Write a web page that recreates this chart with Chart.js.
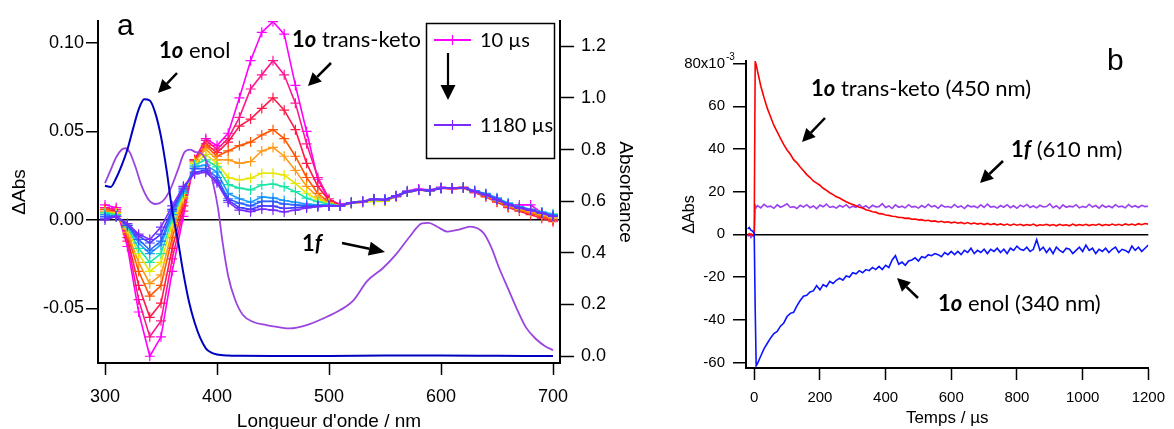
<!DOCTYPE html>
<html>
<head>
<meta charset="utf-8">
<script src="https://cdn.jsdelivr.net/npm/chart.js@4.4.1/dist/chart.umd.min.js"></script>
<style>
  html, body { margin: 0; padding: 0; background: #fff; }
  #wrap { position: relative; width: 1174px; height: 429px; overflow: hidden; }
  #chartA { position: absolute; left: 0; top: 0; }
  #chartB { position: absolute; left: 650px; top: 0; }
</style>
</head>
<body>
<div id="wrap">
  <canvas id="chartA" width="650" height="429"></canvas>
  <canvas id="chartB" width="524" height="429"></canvas>
</div>
<script>
// ---------- Panel a : transient spectra (left axis, ΔAbs) ----------
const wavelengths = [300, 310, 320, 330, 340, 350, 360, 370, 380, 390,
                     400, 410, 420, 430, 440, 450, 460, 470, 480, 490,
                     500, 510, 520, 530, 540, 550, 560, 570, 580, 590,
                     600, 610, 620, 630, 640, 650, 660, 670, 680, 690, 700];

const spec01 = [0.0085, 0.007, -0.015, -0.052, -0.077, -0.066, -0.029, 0.002, 0.034, 0.046,
  0.042, 0.049, 0.069, 0.090, 0.106, 0.112, 0.105, 0.076, 0.050, 0.023,
  0.011, 0.009, 0.0095, 0.0105, 0.012, 0.0115, 0.0135, 0.0165, 0.0175, 0.017,
  0.0185, 0.018, 0.0185, 0.016, 0.0135, 0.011, 0.008, 0.0085, 0.0085, 0.004, 0.000];
const spec02 = [0.007, 0.006, -0.012, -0.045, -0.066, -0.057, -0.022, 0.005, 0.034, 0.045,
  0.040, 0.046, 0.058, 0.074, 0.082, 0.090, 0.082, 0.066, 0.043, 0.024,
  0.012, 0.0085, 0.0095, 0.010, 0.0115, 0.011, 0.0135, 0.016, 0.017, 0.0165,
  0.018, 0.018, 0.018, 0.0155, 0.0135, 0.0105, 0.0075, 0.007, 0.006, 0.003, 0.000];
const spec03 = [0.006, 0.005, -0.010, -0.037, -0.055, -0.047, -0.016, 0.008, 0.034, 0.043,
  0.038, 0.044, 0.053, 0.057, 0.063, 0.069, 0.062, 0.051, 0.032, 0.019,
  0.011, 0.008, 0.0095, 0.010, 0.0115, 0.011, 0.013, 0.016, 0.017, 0.0165,
  0.018, 0.0175, 0.018, 0.0155, 0.013, 0.010, 0.007, 0.005, 0.003, 0.001, -0.001];
const spec04 = [0.006, 0.004, -0.008, -0.029, -0.043, -0.037, -0.010, 0.010, 0.033, 0.042,
  0.036, 0.039, 0.042, 0.044, 0.048, 0.051, 0.046, 0.036, 0.024, 0.015,
  0.010, 0.008, 0.0095, 0.0105, 0.0115, 0.011, 0.0135, 0.016, 0.017, 0.0165,
  0.018, 0.018, 0.018, 0.016, 0.0135, 0.0105, 0.0075, 0.0055, 0.004, 0.002, 0.000];
const spec05 = [0.005, 0.004, -0.007, -0.024, -0.036, -0.031, -0.006, 0.012, 0.033, 0.040,
  0.034, 0.034, 0.032, 0.033, 0.039, 0.041, 0.036, 0.028, 0.019, 0.013,
  0.0095, 0.008, 0.0095, 0.0105, 0.0115, 0.011, 0.0135, 0.016, 0.017, 0.0165,
  0.018, 0.018, 0.0185, 0.016, 0.014, 0.011, 0.008, 0.006, 0.0045, 0.003, 0.001];
const spec06 = [0.004, 0.004, -0.005, -0.019, -0.029, -0.024, -0.002, 0.013, 0.032, 0.037,
  0.032, 0.024, 0.0226, 0.0236, 0.0264, 0.0264, 0.0254, 0.0207, 0.0151, 0.0117,
  0.0094, 0.0078, 0.0095, 0.010, 0.0105, 0.0105, 0.0135, 0.016, 0.0168, 0.0165,
  0.018, 0.018, 0.018, 0.016, 0.014, 0.011, 0.0085, 0.0065, 0.0055, 0.0035, 0.0015];
const spec07 = [0.004, 0.003, -0.004, -0.016, -0.024, -0.019, 0.001, 0.015, 0.031, 0.034,
  0.030, 0.020, 0.018, 0.017, 0.0198, 0.0203, 0.0188, 0.016, 0.0123, 0.0103,
  0.0089, 0.008, 0.0098, 0.0105, 0.0117, 0.0113, 0.0136, 0.016, 0.017, 0.0166,
  0.0179, 0.0179, 0.0183, 0.0165, 0.0145, 0.012, 0.0095, 0.007, 0.006, 0.0045, 0.0035];
const spec08 = [0.003, 0.002, -0.003, -0.013, -0.019, -0.014, 0.003, 0.016, 0.030, 0.031,
  0.027, 0.015, 0.012, 0.010, 0.013, 0.0125, 0.011, 0.010, 0.009, 0.0085,
  0.0085, 0.008, 0.0098, 0.0104, 0.0117, 0.0115, 0.0138, 0.0162, 0.017, 0.0168,
  0.018, 0.018, 0.0183, 0.0165, 0.015, 0.0125, 0.0095, 0.0075, 0.006, 0.0045, 0.003];
const spec09 = [0.002, 0.002, -0.003, -0.011, -0.017, -0.012, 0.005, 0.017, 0.029, 0.029,
  0.024, 0.012, 0.0095, 0.008, 0.0105, 0.0105, 0.009, 0.0085, 0.008, 0.008,
  0.008, 0.008, 0.0098, 0.0104, 0.0117, 0.0115, 0.0136, 0.016, 0.017, 0.0166,
  0.0179, 0.0179, 0.0183, 0.0165, 0.0145, 0.012, 0.009, 0.007, 0.0055, 0.004, 0.0025];
const spec10 = [0.001, 0.002, -0.003, -0.009, -0.013, -0.008, 0.006, 0.018, 0.027, 0.028,
  0.022, 0.011, 0.007, 0.006, 0.008, 0.0078, 0.0065, 0.007, 0.0075, 0.0078,
  0.008, 0.008, 0.0098, 0.0104, 0.0117, 0.0115, 0.0136, 0.016, 0.017, 0.0166,
  0.0179, 0.0179, 0.0183, 0.016, 0.0142, 0.0115, 0.0088, 0.0068, 0.0056, 0.0038, 0.002];
const spec11 = [0.000, 0.002, -0.002, -0.008, -0.011, -0.004, 0.008, 0.019, 0.026, 0.027,
  0.021, 0.010, 0.0056, 0.0047, 0.0062, 0.0056, 0.0045, 0.0056, 0.0068, 0.0075,
  0.008, 0.008, 0.0098, 0.0104, 0.0117, 0.0113, 0.0136, 0.016, 0.017, 0.0166,
  0.0179, 0.0179, 0.0183, 0.016, 0.0141, 0.0113, 0.0085, 0.0066, 0.0056, 0.0038, 0.0019];

const spectra = [spec01, spec02, spec03, spec04, spec05, spec06, spec07, spec08, spec09, spec10, spec11];
const specColors = ['#ff00ff', '#ff1493', '#ff1a4a', '#ff5500', '#ff9a1a', '#e6e600',
                    '#19e6a6', '#1a9cff', '#2a66ff', '#4040ff', '#7a2aff'];
const delayLabels = ['10 µs', '1180 µs'];

// steady-state absorbance (right axis)
const enolNm  = [300, 305, 310, 315, 320, 325, 330, 335, 340, 345, 350, 355, 360, 365, 370,
                 375, 380, 385, 390, 395, 400, 410, 420, 450, 500, 550, 600, 650, 700];
const enolAbs = [0.66, 0.655, 0.69, 0.74, 0.80, 0.88, 0.955, 0.995, 0.99, 0.94, 0.85, 0.72, 0.565, 0.45, 0.32,
                 0.21, 0.13, 0.07, 0.03, 0.013, 0.006, 0.002, 0.001, 0.0, 0.0, 0.002, 0.002, 0.001, 0.0];
const closedNm  = [300, 305, 310, 315, 318, 322, 327, 333, 339, 345, 351, 358, 365, 371, 376, 381,
                   386, 392, 397, 401, 405, 410, 416, 423, 432, 444, 455, 465, 480, 495, 510, 522,
                   534, 548, 560, 572, 583, 589, 597, 606, 616, 626, 638, 645, 652, 660, 668, 676,
                   685, 693, 700];
const closedAbs = [0.67, 0.72, 0.77, 0.80, 0.805, 0.79, 0.735, 0.656, 0.605, 0.589, 0.598, 0.643, 0.72, 0.79, 0.80, 0.79,
                   0.785, 0.74, 0.66, 0.57, 0.44, 0.31, 0.22, 0.16, 0.133, 0.12, 0.112, 0.107, 0.12, 0.146, 0.178, 0.217,
                   0.29, 0.34, 0.395, 0.462, 0.514, 0.516, 0.50, 0.482, 0.49, 0.501, 0.476, 0.42, 0.34, 0.26, 0.18, 0.11,
                   0.065, 0.038, 0.023];

const xTicksA  = [300, 400, 500, 600, 700];
const yTicksA  = [-0.05, 0.00, 0.05, 0.10];
const y1TicksA = [0.0, 0.2, 0.4, 0.6, 0.8, 1.0, 1.2];

// ---------- Panel b : kinetic traces ----------
const tEarly = [-20, -15, -10, -5, 0, 3, 6];
const times = tEarly.slice();
for (let t = 10; t <= 1200; t += 10) times.push(t);

const keto450 = [0.3, -0.4, 0.2, -0.3, 0.0, 81.0, 79.5,
  76.5, 69.5, 64.0, 59.0, 55.0, 51.0, 48.0, 45.0, 42.0, 39.5,
  37.5, 35.0, 33.5, 31.5, 29.8, 28.0, 26.6, 25.0, 24.0, 23.0,
  21.6, 20.6, 19.5, 18.6, 17.6, 17.0, 16.1, 15.3, 14.6, 14.0,
  13.4, 12.7, 12.3, 11.5, 11.2, 10.6, 10.4, 9.7, 9.6, 9.1,
  8.9, 8.5, 8.4, 7.9, 7.9, 7.5, 7.6, 7.1, 7.2, 6.8,
  6.9, 6.4, 6.6, 6.1, 6.3, 5.8, 6.1, 5.6, 5.9, 5.4,
  5.8, 5.2, 5.6, 5.0, 5.5, 4.9, 5.3, 4.8, 5.2, 4.6,
  5.1, 4.5, 5.0, 4.4, 4.9, 4.3, 4.8, 4.2, 4.8, 4.3,
  4.7, 4.1, 4.6, 4.2, 4.8, 4.0, 4.5, 4.3, 4.7, 4.1,
  4.6, 4.0, 4.7, 4.2, 4.5, 4.0, 4.8, 4.1, 4.6, 4.2,
  4.7, 4.1, 4.6, 4.3, 4.8, 4.1, 4.6, 4.2, 4.8, 4.3,
  4.7, 4.2, 4.9, 4.4, 4.8, 4.3, 5.0, 4.5, 5.1, 4.8];
const closed610 = [-1.0, 0.2, -1.5, -0.5, -1.0, 13.5, 12.5,
  13.5, 12.4, 14.1, 12.9, 13.2, 12.2, 13.8, 12.7, 13.4, 14.3,
  12.6, 13.0, 12.1, 13.6, 12.8, 13.9, 12.5, 13.3, 12.0, 13.7,
  12.9, 14.2, 12.6, 13.1, 12.3, 13.5, 12.8, 13.9, 12.4, 13.2,
  12.7, 14.0, 12.5, 13.4, 12.2, 13.6, 12.9, 13.0, 14.4, 12.6,
  13.3, 12.1, 13.8, 12.7, 13.2, 12.4, 13.9, 12.8, 13.1, 12.3,
  13.5, 12.6, 14.1, 12.9, 13.4, 12.2, 13.7, 12.8, 13.0, 12.5,
  14.0, 12.7, 13.3, 12.1, 13.6, 12.9, 13.2, 12.4, 13.8, 12.6,
  14.2, 12.8, 13.1, 12.3, 13.5, 12.7, 13.9, 12.5, 13.4, 12.2,
  13.7, 12.9, 14.0, 12.6, 13.3, 12.4, 13.6, 12.8, 13.0, 14.3,
  12.5, 13.4, 12.1, 13.8, 12.7, 13.2, 12.9, 13.9, 12.4, 13.1,
  12.6, 14.1, 12.8, 13.5, 12.3, 13.7, 12.7, 13.3, 12.5, 13.9,
  12.9, 13.2, 12.4, 14.0, 12.8, 13.4, 12.6, 13.6, 13.0, 13.2];
const enol340 = [2.5, 3.2, 2.0, 1.5, 0.5, -35.0, -61.5,
  -60.5, -57.0, -53.5, -51.0, -48.5, -46.5, -45.5, -43.0, -41.5, -38.5,
  -37.0, -36.5, -33.5, -31.0, -29.0, -28.5, -27.0, -26.5, -24.0, -26.0,
  -23.5, -24.5, -22.0, -23.0, -21.5, -20.5, -21.5, -19.5, -20.0, -18.0,
  -18.5, -17.0, -18.0, -16.5, -17.0, -15.5, -16.5, -15.0, -16.5, -14.5,
  -15.5, -12.0, -10.0, -14.0, -13.0, -14.5, -12.5, -12.0, -11.0, -12.5,
  -10.5, -11.0, -9.5, -10.0, -9.0, -9.5, -10.5, -8.5, -9.5, -8.0,
  -9.5, -8.0, -9.5, -7.5, -8.5, -6.5, -9.0, -7.5, -8.5, -7.0,
  -9.0, -7.0, -8.0, -6.5, -8.5, -7.0, -9.0, -6.5, -7.5, -5.5,
  -7.0, -7.5, -6.0, -8.0, -7.0, -2.5, -7.5, -6.0, -8.5, -6.5,
  -9.0, -6.0, -7.5, -8.5, -6.5, -7.0, -9.0, -7.5, -6.0, -8.0,
  -5.0, -7.5, -6.5, -9.0, -7.0, -8.0, -6.5, -8.5, -7.0, -6.0,
  -8.5, -7.0, -7.5, -8.5, -5.5, -7.5, -6.0, -8.0, -6.5, -5.0];

const xTicksB = [0, 200, 400, 600, 800, 1000, 1200];
const yTicksB = [-60, -40, -20, 0, 20, 40, 60, 80];

// ---------- helpers ----------
Chart.defaults.font.family = '"Liberation Sans", Arial, sans-serif';
Chart.defaults.color = '#000';

const ANNOT_FONT = 'Lato, "Open Sans", sans-serif';
const ANNOT_SIZE = 22;

function drawRich(ctx, x, y, parts, size) {
  parts.forEach(([txt, style]) => {
    ctx.font = `${style} ${size}px ${ANNOT_FONT}`;
    ctx.fillText(txt, x, y);
    x += ctx.measureText(txt).width;
  });
}

function arrow(ctx, x1, y1, x2, y2, head = 13, halfW = 6.5, lw = 2.5) {
  const ang = Math.atan2(y2 - y1, x2 - x1);
  const bx = x2 - head * Math.cos(ang), by = y2 - head * Math.sin(ang);
  ctx.strokeStyle = '#000';
  ctx.fillStyle = '#000';
  ctx.lineWidth = lw;
  ctx.beginPath(); ctx.moveTo(x1, y1); ctx.lineTo(bx, by); ctx.stroke();
  ctx.beginPath();
  ctx.moveTo(x2, y2);
  ctx.lineTo(bx + halfW * Math.sin(ang), by - halfW * Math.cos(ang));
  ctx.lineTo(bx - halfW * Math.sin(ang), by + halfW * Math.cos(ang));
  ctx.closePath(); ctx.fill();
}

function legendEntry(ctx, x1, x2, y, color) {
  ctx.strokeStyle = color;
  ctx.lineWidth = 2;
  ctx.beginPath(); ctx.moveTo(x1, y); ctx.lineTo(x2, y); ctx.stroke();
  const cx = (x1 + x2) / 2;
  ctx.lineWidth = 1.2;
  ctx.beginPath(); ctx.moveTo(cx, y - 5); ctx.lineTo(cx, y + 5); ctx.stroke();
}

const setTicks = arr => scale => { scale.ticks = arr.map(v => ({ value: v })); };
const zeroLine = c => (c.tick && c.tick.value === 0) ? '#000' : 'rgba(0,0,0,0)';

// ---------- Panel a ----------
const annotA = {
  id: 'annotA',
  afterDraw(chart) {
    const ctx = chart.ctx;
    ctx.save();
    ctx.fillStyle = '#000';
    ctx.textBaseline = 'alphabetic';
    ctx.font = '30px "Liberation Sans", Arial, sans-serif';
    ctx.fillText('a', 117, 35);

    drawRich(ctx, 159, 58, [['1', 'bold'], ['o', 'italic bold'], [' enol', 'normal']], ANNOT_SIZE);
    arrow(ctx, 177, 73, 158, 93);
    drawRich(ctx, 292, 47, [['1', 'bold'], ['o', 'italic bold'], [' trans-keto', 'normal']], ANNOT_SIZE);
    arrow(ctx, 331, 63, 308, 86);
    drawRich(ctx, 302, 251, [['1', 'bold'], ['f', 'italic bold']], ANNOT_SIZE);
    arrow(ctx, 342, 243, 385, 252, 16, 7);

    // legend box
    ctx.strokeStyle = '#000';
    ctx.lineWidth = 1.5;
    ctx.strokeRect(426.5, 23.5, 128, 135);
    legendEntry(ctx, 434, 471, 40, specColors[0]);
    legendEntry(ctx, 434, 471, 125, specColors[specColors.length - 1]);
    ctx.fillStyle = '#000';
    ctx.font = `20px ${ANNOT_FONT}`;
    ctx.fillText(delayLabels[0], 480, 47);
    ctx.fillText(delayLabels[1], 480, 132);
    arrow(ctx, 448, 53, 448, 100, 15, 7.5, 2.2);
    ctx.restore();
  }
};

const datasetsA = spectra.map((vals, i) => ({
  data: wavelengths.map((w, j) => ({ x: w, y: vals[j] })),
  yAxisID: 'y',
  borderColor: specColors[i],
  backgroundColor: specColors[i],
  borderWidth: 1.6,
  pointStyle: 'cross',
  pointRadius: 5,
  pointBorderWidth: 1.2,
  pointBorderColor: specColors[i],
  order: 20 - i
}));
datasetsA.push({
  data: enolNm.map((w, j) => ({ x: w, y: enolAbs[j] })),
  yAxisID: 'y1',
  borderColor: '#0000c0',
  borderWidth: 2,
  pointRadius: 0,
  cubicInterpolationMode: 'monotone',
  order: 0
});
datasetsA.push({
  data: closedNm.map((w, j) => ({ x: w, y: closedAbs[j] })),
  yAxisID: 'y1',
  borderColor: '#9a45e0',
  borderWidth: 1.8,
  pointRadius: 0,
  cubicInterpolationMode: 'monotone',
  order: 1
});

new Chart(document.getElementById('chartA'), {
  type: 'line',
  data: { datasets: datasetsA },
  options: {
    responsive: false,
    animation: false,
    events: [],
    layout: { padding: { top: 21, left: 0, right: 0, bottom: 0 } },
    plugins: { legend: { display: false }, tooltip: { enabled: false } },
    scales: {
      x: {
        type: 'linear', min: 293.75, max: 706.25,
        afterBuildTicks: setTicks(xTicksA),
        afterFit: s => { s.height = 66; },
        ticks: { font: { size: 18 }, padding: 11, maxRotation: 0, callback: v => String(v) },
        grid: { drawOnChartArea: false, tickLength: 12, tickColor: '#000', tickWidth: 1.5 },
        border: { display: true, color: '#000', width: 2 },
        title: { display: true, text: "Longueur d'onde / nm", font: { size: 19 }, padding: { top: 0, bottom: -4.4 } }
      },
      y: {
        type: 'linear', position: 'left', min: -0.0808, max: 0.1124,
        afterBuildTicks: setTicks(yTicksA),
        afterFit: s => { s.width = 98; },
        ticks: { font: { size: 18 }, padding: 2, callback: v => v.toFixed(2) },
        grid: { drawOnChartArea: true, color: zeroLine, lineWidth: 1.5, tickLength: 12, tickColor: '#000', tickWidth: 1.5 },
        border: { display: true, color: '#000', width: 2 },
        title: { display: true, text: 'ΔAbs', font: { size: 19 }, padding: { top: 8.6, bottom: 0 } }
      },
      y1: {
        type: 'linear', position: 'right', min: -0.027, max: 1.298,
        afterBuildTicks: setTicks(y1TicksA),
        afterFit: s => { s.width = 90; },
        ticks: { font: { size: 18 }, padding: 7, callback: v => v.toFixed(1) },
        grid: { drawOnChartArea: false, tickLength: 14, tickColor: '#000', tickWidth: 1.5 },
        border: { display: true, color: '#000', width: 2 },
        title: { display: true, text: 'Absorbance', font: { size: 19 }, padding: { top: 13.6, bottom: 0 } }
      }
    }
  },
  plugins: [annotA]
});

// ---------- Panel b ----------
const annotB = {
  id: 'annotB',
  afterDraw(chart) {
    const ctx = chart.ctx;
    ctx.save();
    ctx.fillStyle = '#000';
    ctx.textBaseline = 'alphabetic';
    ctx.font = '30px "Liberation Sans", Arial, sans-serif';
    ctx.fillText('b', 457, 70);

    drawRich(ctx, 161, 96, [['1', 'bold'], ['o', 'italic bold'], [' trans-keto (450 nm)', 'normal']], ANNOT_SIZE);
    arrow(ctx, 175, 118, 152, 142);
    drawRich(ctx, 361, 157, [['1', 'bold'], ['f', 'italic bold'], [' (610 nm)', 'normal']], ANNOT_SIZE);
    arrow(ctx, 353, 161, 330, 183);
    drawRich(ctx, 288, 311, [['1', 'bold'], ['o', 'italic bold'], [' enol (340 nm)', 'normal']], ANNOT_SIZE);
    arrow(ctx, 268, 298, 247, 278);

    // exponent of the top tick label
    const ys = chart.scales.y;
    ctx.font = '10px "Liberation Sans", Arial, sans-serif';
    ctx.textBaseline = 'middle';
    ctx.fillText('-3', 76, ys.getPixelForValue(yTicksB[yTicksB.length - 1]) - 6);
    ctx.restore();
  }
};

const mk = (vals) => times.map((t, j) => ({ x: t, y: vals[j] }));

new Chart(document.getElementById('chartB'), {
  type: 'line',
  data: {
    datasets: [
      { data: mk(enol340), borderColor: '#0a14ff', borderWidth: 1.6, pointRadius: 0, order: 0 },
      { data: mk(keto450), borderColor: '#ff0000', borderWidth: 1.6, pointRadius: 0, order: 1 },
      { data: mk(closed610), borderColor: '#9a3ff0', borderWidth: 1.6, pointRadius: 0, order: 2 }
    ]
  },
  options: {
    responsive: false,
    animation: false,
    events: [],
    layout: { padding: { top: 61, left: 0, right: 21, bottom: 0 } },
    plugins: { legend: { display: false }, tooltip: { enabled: false } },
    scales: {
      x: {
        type: 'linear', min: -25, max: 1200,
        afterBuildTicks: setTicks(xTicksB),
        afterFit: s => { s.height = 61; },
        ticks: { font: { size: 15 }, padding: 9, maxRotation: 0, callback: v => String(v) },
        grid: { drawOnChartArea: false, tickLength: 12, tickColor: '#000', tickWidth: 1.5 },
        border: { display: true, color: '#000', width: 2 },
        title: { display: true, text: 'Temps / µs', font: { size: 17 }, padding: { top: 0, bottom: 0.8 } }
      },
      y: {
        type: 'linear', position: 'left', min: -62.6, max: 81.2,
        afterBuildTicks: setTicks(yTicksB),
        afterFit: s => { s.width = 96; },
        ticks: { font: { size: 15 }, padding: 8, callback: v => v === 80 ? '80x10' : String(v) },
        grid: { drawOnChartArea: true, color: zeroLine, lineWidth: 1.5, tickLength: 13, tickColor: '#000', tickWidth: 1.5 },
        border: { display: true, color: '#000', width: 2 },
        title: { display: true, text: 'ΔAbs', font: { size: 16 }, padding: { top: 30.4, bottom: 0 } }
      }
    }
  },
  plugins: [annotB]
});
</script>
</body>
</html>
